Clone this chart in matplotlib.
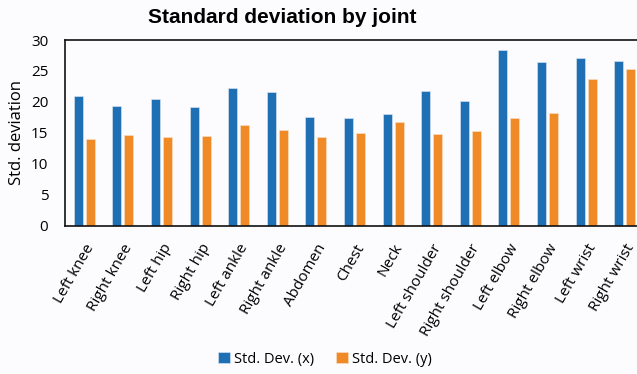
import matplotlib.pyplot as plt
import numpy as np

# joints and std. dev. values
joints = ["Left knee", "Right knee", "Left hip", "Right hip", "Left ankle",
          "Right ankle", "Abdomen", "Chest", "Neck", "Left shoulder",
          "Right shoulder", "Left elbow", "Right elbow", "Left wrist", "Right wrist"]
std_x = [21.0, 19.35, 20.4, 19.2, 22.3, 21.6, 17.6, 17.4, 18.0, 21.7,
         20.1, 28.4, 26.5, 27.15, 26.55]
std_y = [14.1, 14.6, 14.35, 14.5, 16.3, 15.5, 14.35, 15.05, 16.8, 14.9,
         15.3, 17.4, 18.3, 23.65, 25.4]

blue = "#1f6fb5"
orange = "#f08a26"

plt.rcParams['font.family'] = ['Open Sans', 'DejaVu Sans']

fig = plt.figure(figsize=(6.37, 3.74), dpi=100)
fig.patch.set_facecolor("#fcfcfe")
# axes run slightly past the right edge, like the cropped original
ax = fig.add_axes([0.102, 0.396, 0.909, 0.497])
ax.set_facecolor("#fcfcfe")

x = np.arange(len(joints))
w = 0.235
ax.bar(x - 0.155, std_x, w, color=blue, edgecolor="#dfe8f4", linewidth=0.4,
       label="Std. Dev. (x)")
ax.bar(x + 0.155, std_y, w, color=orange, edgecolor="#f8e2cc", linewidth=0.4,
       label="Std. Dev. (y)")

ax.set_xlim(-0.5, len(joints) - 0.5)
ax.set_ylim(0, 30)
ax.set_yticks(np.arange(0, 31, 5))
ax.set_xticks(x)
ax.set_xticklabels(joints, rotation=60, ha="right", rotation_mode="anchor",
                   fontsize=11)
ax.tick_params(axis="both", length=0)
ax.tick_params(axis="y", labelsize=11, pad=12)
ax.tick_params(axis="x", pad=11)
ax.set_ylabel("Std. deviation", fontsize=12, labelpad=4)

for s in ax.spines.values():
    s.set_linewidth(1.2)
    s.set_color("#111111")

fig.text(0.443, 0.953, "Standard deviation by joint", ha="center", va="center",
         fontsize=15, fontweight="bold", family="Liberation Sans")

fig.legend(loc="center", bbox_to_anchor=(0.51, 0.04), ncol=2, frameon=False,
           fontsize=10.5, handlelength=0.8, handleheight=0.8, handletextpad=0.3,
           columnspacing=1.5)

fig.savefig("out.png", dpi=100, facecolor=fig.get_facecolor())
